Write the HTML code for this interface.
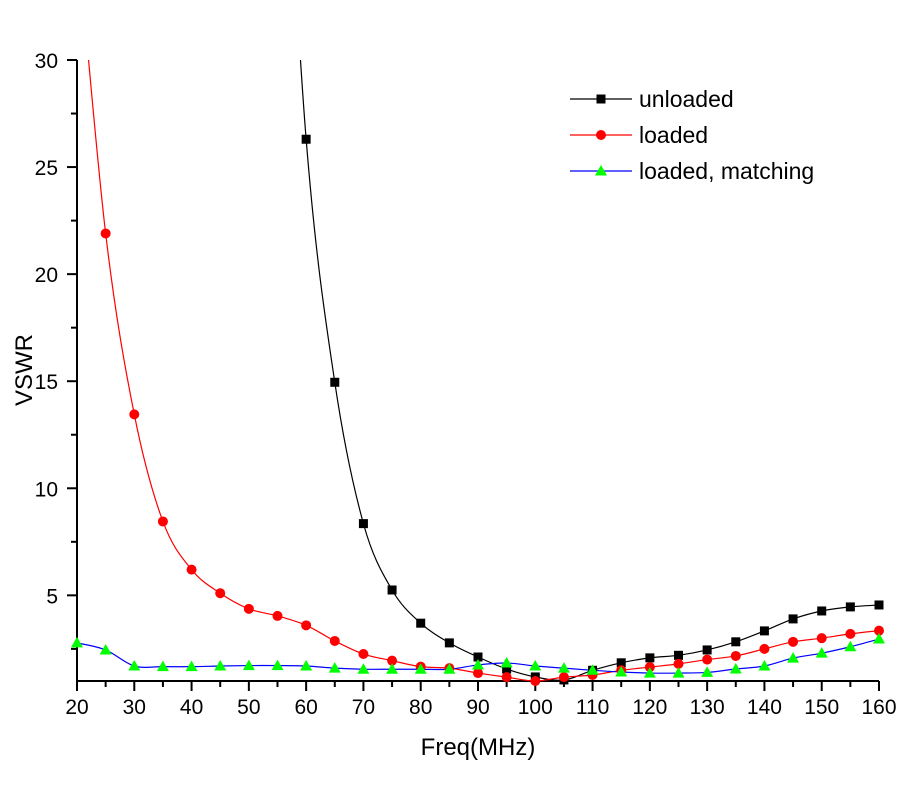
<!DOCTYPE html>
<html><head><meta charset="utf-8"><style>
body{margin:0;background:#fff;}
text{font-family:"Liberation Sans",Arial,sans-serif;}
</style></head><body>
<svg id="chart" width="900" height="800" xmlns="http://www.w3.org/2000/svg">
<defs><clipPath id="plotclip"><rect x="77" y="60" width="803" height="622"/></clipPath></defs>
<g id="axes"></g>
<g id="series" clip-path="url(#plotclip)"></g>
<g id="markers"></g>
<g id="legend"></g>
</svg>
<script>
const freqs=[20,25,30,35,40,45,50,55,60,65,70,75,80,85,90,95,100,105,110,115,120,125,130,135,140,145,150,155,160];
const unloaded=[null,null,null,null,null,null,null,48,26.3,14.95,8.35,5.25,3.7,2.78,2.12,1.56,1.19,1.05,1.5,1.85,2.08,2.2,2.45,2.83,3.34,3.9,4.27,4.46,4.55];
const loaded=[36,21.9,13.45,8.45,6.2,5.1,4.37,4.04,3.6,2.87,2.26,1.95,1.67,1.6,1.37,1.18,1.0,1.18,1.28,1.5,1.65,1.8,2.0,2.17,2.5,2.83,3.0,3.2,3.35];
const matching=[2.78,2.45,1.7,1.67,1.67,1.7,1.72,1.72,1.7,1.6,1.55,1.55,1.55,1.55,1.75,1.84,1.7,1.6,1.5,1.42,1.37,1.37,1.4,1.56,1.7,2.07,2.3,2.6,2.96];
const xTicks=[20,30,40,50,60,70,80,90,100,110,120,130,140,150,160];
const yTicks=[5,10,15,20,25,30];
const seriesNames=["unloaded","loaded","loaded, matching"];

const X0=77,X1=879,Y0=681,Y1=60,XMIN=20,XMAX=160,YMIN=1,YMAX=30;
const xs=v=>X0+(v-XMIN)/(XMAX-XMIN)*(X1-X0);
const ys=v=>Y0-(v-YMIN)/(YMAX-YMIN)*(Y0-Y1);
const NS="http://www.w3.org/2000/svg";
function mk(tag,attrs,parent){const e=document.createElementNS(NS,tag);for(const k in attrs)e.setAttribute(k,attrs[k]);parent.appendChild(e);return e;}
const axes=document.getElementById('axes');
let a=mk('path',{d:`M${X0} ${Y1} L${X0} ${Y0} L${X1} ${Y0}`,fill:'none',stroke:'#000','stroke-width':2},axes);


for(let v=20;v<=160;v+=5){
  const major=v%10===0;
  const t=mk('line',{x1:xs(v),x2:xs(v),y1:Y0,y2:Y0+(major?10:6),stroke:'#000','stroke-width':2},axes);
  
  
}
xTicks.forEach(v=>{
  const t=mk('text',{x:xs(v),y:Y0+33,'text-anchor':'middle','font-size':21},axes);t.textContent=v;
  
  
});
for(let v=2.5;v<=30;v+=2.5){
  const major=v%5===0;
  const t=mk('line',{x1:X0,x2:X0-(major?10:6),y1:ys(v),y2:ys(v),stroke:'#000','stroke-width':2},axes);
  
  
}
yTicks.forEach(v=>{
  const t=mk('text',{x:X0-19,y:ys(v)+8,'text-anchor':'end','font-size':21},axes);t.textContent=v;
  
  
});
let xt=mk('text',{x:(X0+X1)/2,y:755,'text-anchor':'middle','font-size':24},axes);xt.textContent='Freq(MHz)';


let yt=mk('text',{x:32,y:370,'text-anchor':'middle','font-size':24,transform:'rotate(-90 32 370)'},axes);yt.textContent='VSWR';



function spline(pts){
  let d=`M${pts[0][0]} ${pts[0][1]}`;
  for(let i=0;i<pts.length-1;i++){
    const p0=pts[Math.max(0,i-1)],p1=pts[i],p2=pts[i+1],p3=pts[Math.min(pts.length-1,i+2)];
    const c1=[p1[0]+(p2[0]-p0[0])/6,p1[1]+(p2[1]-p0[1])/6],c2=[p2[0]-(p3[0]-p1[0])/6,p2[1]-(p3[1]-p1[1])/6];
    d+=` C${c1[0]} ${c1[1]} ${c2[0]} ${c2[1]} ${p2[0]} ${p2[1]}`;
  }
  return d;
}
const sg=document.getElementById('series'),mg=document.getElementById('markers');
const defs=[[unloaded,'#000','square','#000'],[loaded,'#f00','circle','#f00'],[matching,'#00f','triangle','#0f0']];
function marker(type,x,y,fill,parent){
  if(type==='square')return mk('rect',{x:x-4.5,y:y-4.5,width:9,height:9,fill:fill},parent);
  if(type==='circle')return mk('circle',{cx:x,cy:y,r:5,fill:fill},parent);
  return mk('polygon',{points:`${x},${y-6} ${x+6},${y+4.5} ${x-6},${y+4.5}`,fill:fill},parent);
}
defs.forEach(([arr,col,type,mcol],si)=>{
  const pts=[];freqs.forEach((f,i)=>{if(arr[i]!=null)pts.push([xs(f),ys(arr[i])]);});
  const p=mk('path',{d:spline(pts),fill:'none',stroke:col,'stroke-width':1.2},sg);
  
  
  freqs.forEach((f,i)=>{
    const v=arr[i];if(v==null||v>YMAX)return;
    const m=marker(type,xs(f),ys(v),mcol,mg);
    
    
  });
});
const lg=document.getElementById('legend');
defs.forEach(([arr,col,type,mcol],i)=>{
  const y=99+i*36;
  const l=mk('line',{x1:570,x2:632,y1:y,y2:y,stroke:col,'stroke-width':1.2},lg);
  
  
  const m=marker(type,601,y,mcol,lg);
  
  
  const t=mk('text',{x:639,y:y+8,'font-size':23},lg);t.textContent=seriesNames[i];
  
  
});
</script>
</body></html>
